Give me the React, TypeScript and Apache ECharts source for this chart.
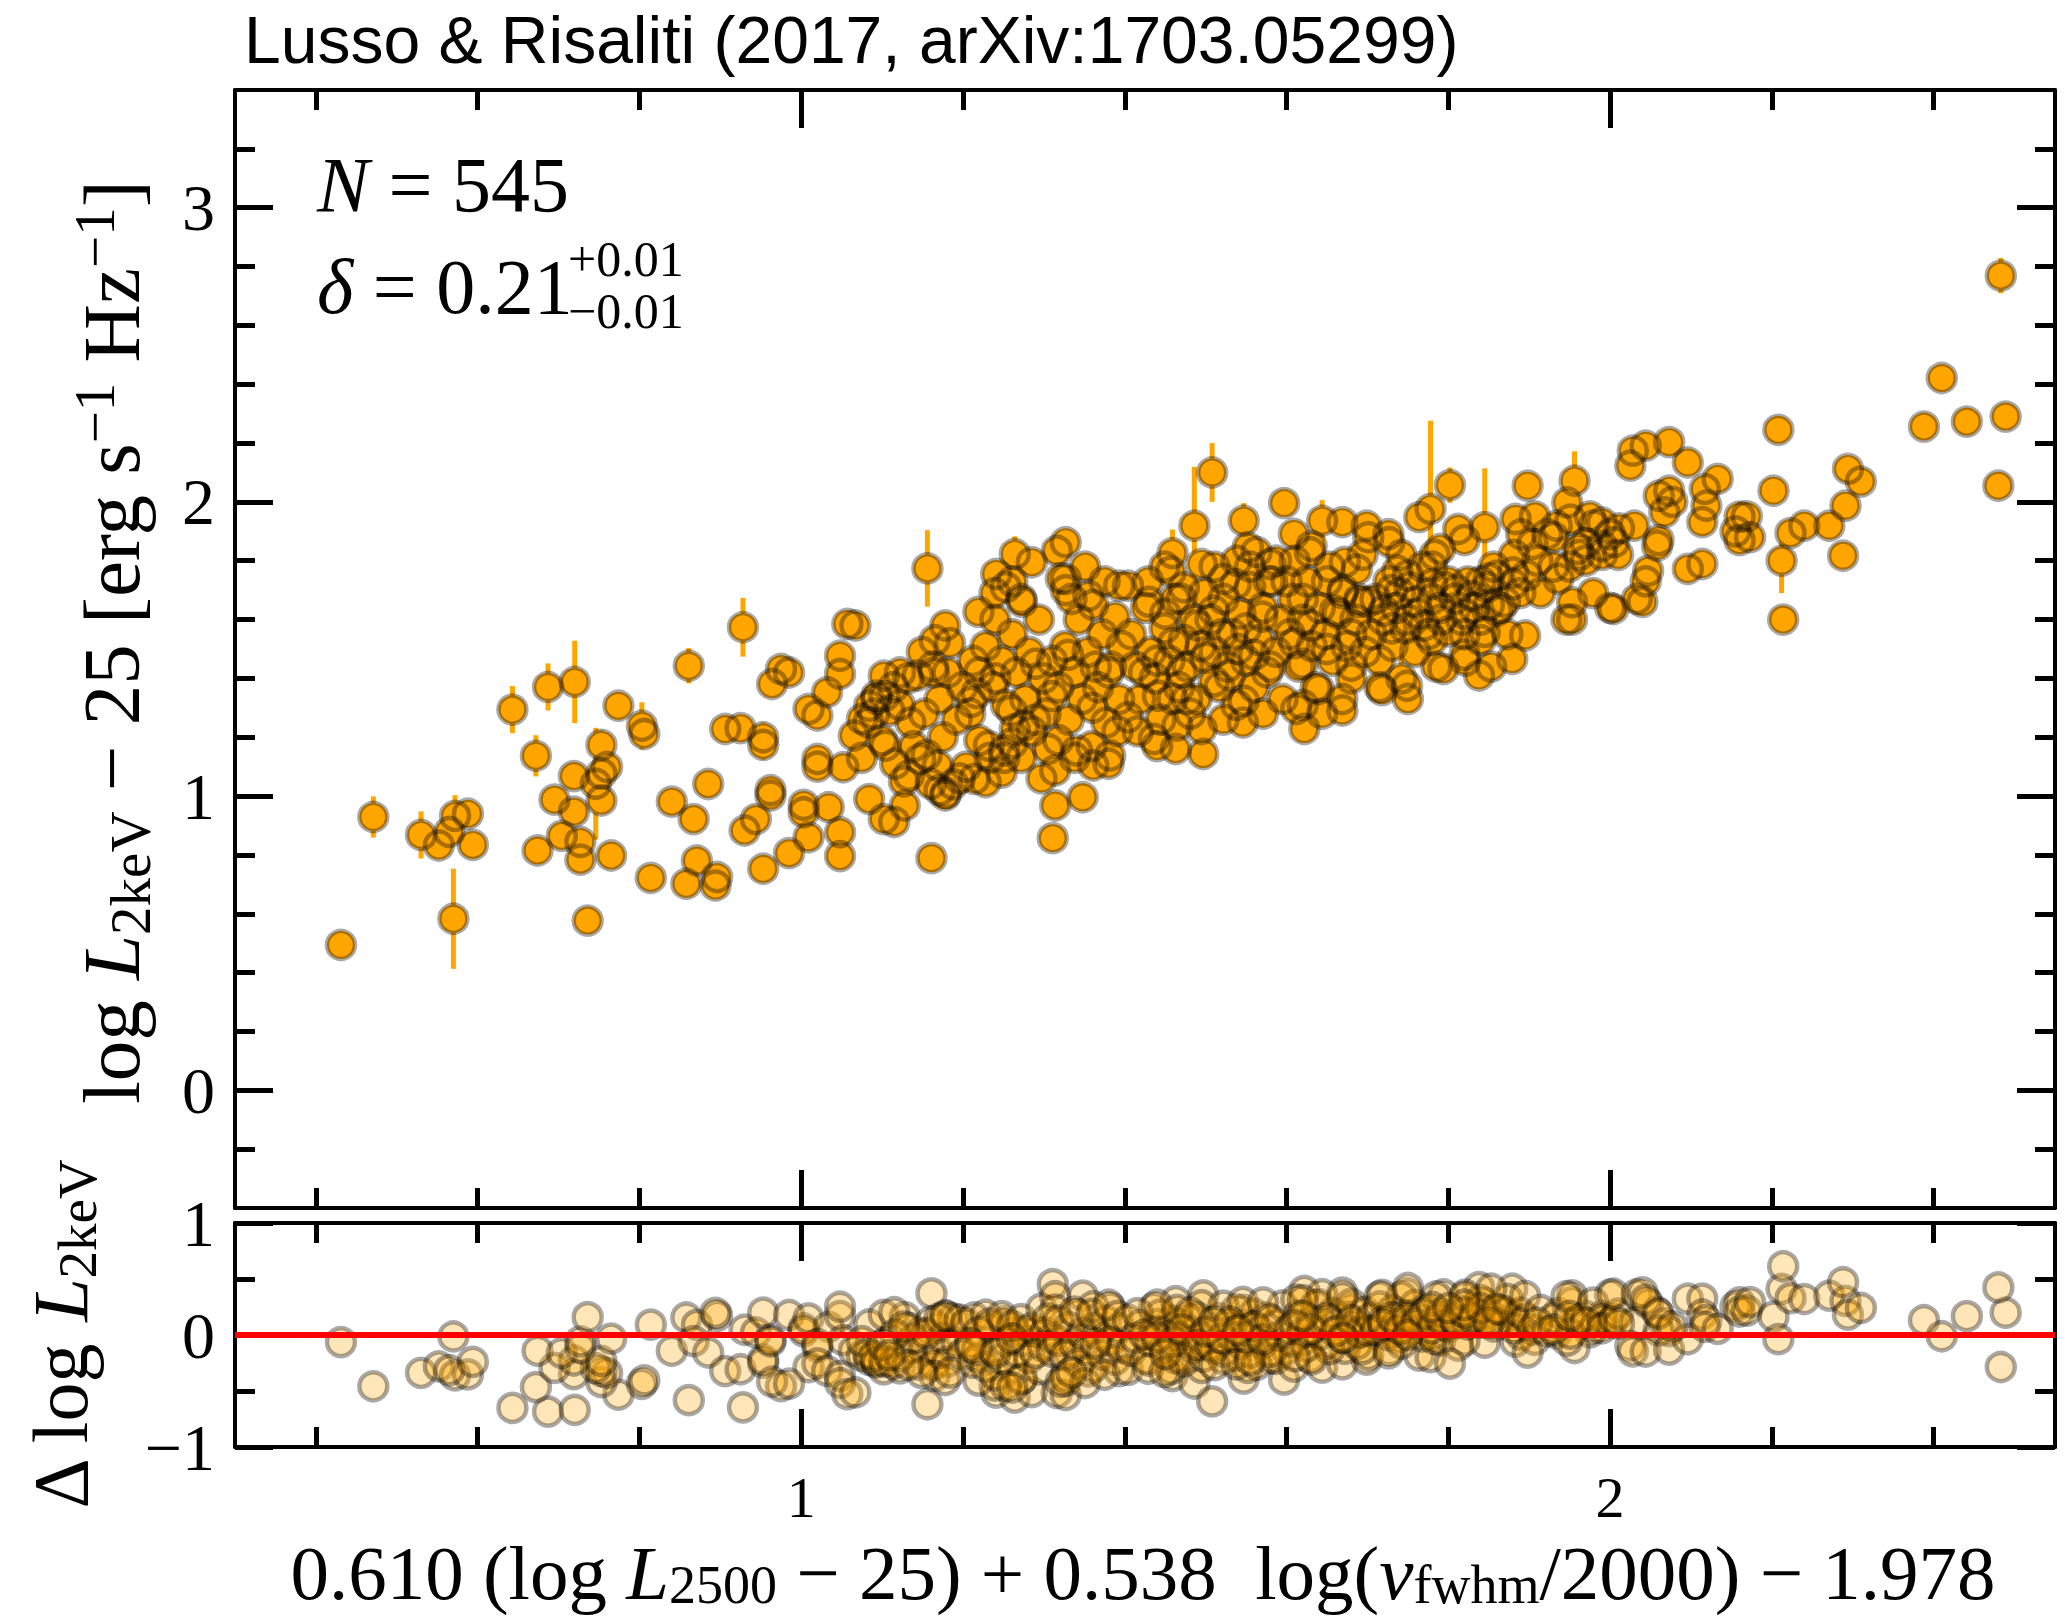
import React, { useEffect, useRef } from 'react';
import * as echarts from 'echarts';

type Obs = [number, number, number]; // [x, log L2keV - 25, error half-length]

const sampleLow: Obs[] = [
  [0.431, 0.494, 0], [0.471, 0.929, 0.07], [0.530, 0.868, 0.08], [0.552, 0.832, 0], [0.572, 0.933, 0.07],
  [0.588, 0.940, 0], [0.565, 0.878, 0], [0.594, 0.834, 0], [0.570, 0.583, 0.17],
  [0.643, 1.294, 0.08], [0.687, 1.371, 0.08], [0.720, 1.388, 0.14], [0.672, 1.137, 0.07], [0.774, 1.307, 0],
  [0.803, 1.239, 0.08], [0.806, 1.211, 0], [0.753, 1.174, 0.05], [0.719, 1.068, 0], [0.760, 1.099, 0],
  [0.753, 1.076, 0], [0.746, 1.042, 0.19], [0.695, 0.988, 0], [0.719, 0.947, 0], [0.753, 0.985, 0],
  [0.674, 0.815, 0], [0.704, 0.865, 0], [0.727, 0.844, 0], [0.727, 0.784, 0], [0.765, 0.798, 0], [0.736, 0.577, 0],
  [0.814, 0.722, 0], [0.858, 0.702, 0], [0.871, 0.781, 0], [0.896, 0.725, 0], [0.894, 0.696, 0], [0.840, 0.981, 0],
  [0.867, 0.922, 0], [0.885, 1.041, 0], [0.861, 1.443, 0.06], [0.928, 1.574, 0.1], [0.906, 1.228, 0],
  [0.925, 1.231, 0], [0.953, 1.200, 0.05], [0.953, 1.174, 0.05], [0.930, 0.883, 0], [0.944, 0.922, 0],
  [0.962, 1.002, 0], [0.962, 1.02, 0], [0.953, 0.753, 0], [0.985, 0.806, 0],
  [1.003, 0.945, 0], [1.003, 0.97, 0], [1.009, 0.860, 0], [1.034, 0.962, 0], [1.048, 0.877, 0], [1.048, 0.796, 0],
  [1.020, 1.126, 0], [1.020, 1.10, 0], [1.052, 1.098, 0], [1.009, 1.296, 0], [1.020, 1.274, 0], [1.032, 1.353, 0],
  [1.048, 1.415, 0], [1.048, 1.477, 0], [0.975, 1.432, 0], [0.964, 1.381, 0], [0.985, 1.42, 0], [1.057, 1.585, 0],
  [1.067, 1.58, 0], [1.065, 1.206, 0], [1.075, 1.262, 0], [1.084, 1.307, 0], [1.093, 1.341, 0], [1.084, 0.990, 0],
  [1.102, 0.922, 0], [1.104, 1.171, 0], [1.102, 1.409, 0], [1.083, 1.25, 0], [1.075, 1.13, 0], [1.093, 1.33, 0],
  [1.090, 1.28, 0],
];

const sampleMid: Obs[] = [
  [1.161, 0.789, 0], [1.128, 0.968, 0], [1.115, 0.912, 0], [1.133, 1.070, 0], [1.147, 1.126, 0], [1.169, 1.104, 0],
  [1.160, 1.041, 0], [1.178, 1.002, 0], [1.122, 1.42, 0], [1.164, 1.42, 0], [1.156, 1.774, 0.13],
  [1.103, 1.34, 0], [1.114, 1.37, 0], [1.122, 1.31, 0], [1.135, 1.25, 0], [1.144, 1.41, 0], [1.152, 1.28, 0],
  [1.163, 1.44, 0], [1.171, 1.33, 0], [1.175, 1.20, 0], [1.181, 1.42, 0], [1.188, 1.04, 0], [1.192, 1.26, 0],
  [1.199, 1.37, 0], [1.139, 1.17, 0], [1.155, 1.14, 0], [1.116, 1.11, 0], [1.100, 1.19, 0], [1.127, 1.05, 0],
  [1.171, 1.02, 0], [1.179, 1.01, 0], [1.196, 1.06, 0], [1.204, 1.10, 0], [1.165, 1.53, 0], [1.178, 1.58, 0],
  [1.149, 1.49, 0], [1.132, 1.40, 0], [1.109, 1.29, 0], [1.184, 1.52, 0],
  [1.214, 1.058, 0], [1.228, 1.047, 0], [1.264, 1.228, 0], [1.275, 1.240, 0], [1.232, 1.171, 0], [1.251, 1.155, 0],
  [1.251, 1.13, 0], [1.241, 1.755, 0], [1.239, 1.69, 0], [1.264, 1.823, 0.06], [1.285, 1.795, 0], [1.273, 1.66, 0],
  [1.219, 1.626, 0], [1.212, 1.46, 0], [1.220, 1.42, 0], [1.228, 1.51, 0], [1.237, 1.37, 0], [1.240, 1.60, 0],
  [1.248, 1.46, 0], [1.253, 1.31, 0], [1.261, 1.55, 0], [1.266, 1.42, 0], [1.272, 1.67, 0], [1.277, 1.33, 0],
  [1.282, 1.49, 0], [1.289, 1.26, 0], [1.294, 1.60, 0], [1.299, 1.40, 0], [1.220, 1.19, 0], [1.233, 1.13, 0],
  [1.248, 1.08, 0], [1.261, 1.18, 0], [1.272, 1.13, 0], [1.285, 1.22, 0], [1.297, 1.06, 0], [1.209, 1.28, 0],
  [1.217, 1.35, 0], [1.302, 1.28, 0], [1.253, 1.71, 0], [1.261, 1.73, 0],
  [1.21, 1.32, 0], [1.24, 1.40, 0], [1.26, 1.29, 0], [1.29, 1.45, 0], [1.31, 1.34, 0], [1.33, 1.48, 0],
  [1.36, 1.30, 0], [1.38, 1.42, 0],
  [1.311, 0.857, 0], [1.314, 0.968, 0], [1.348, 0.996, 0], [1.382, 1.138, 0], [1.361, 1.104, 0], [1.341, 1.155, 0],
  [1.314, 1.087, 0], [1.305, 1.160, 0], [1.316, 1.834, 0.04], [1.327, 1.863, 0.04], [1.327, 1.738, 0],
  [1.327, 1.70, 0], [1.355, 1.681, 0], [1.393, 1.715, 0],
  [1.310, 1.46, 0], [1.318, 1.37, 0], [1.326, 1.51, 0], [1.331, 1.26, 0], [1.338, 1.42, 0], [1.343, 1.60, 0],
  [1.347, 1.33, 0], [1.354, 1.49, 0], [1.361, 1.65, 0], [1.367, 1.37, 0], [1.372, 1.55, 0], [1.377, 1.25, 0],
  [1.383, 1.44, 0], [1.388, 1.61, 0], [1.393, 1.33, 0], [1.396, 1.51, 0], [1.318, 1.19, 0], [1.338, 1.13, 0],
  [1.359, 1.17, 0], [1.380, 1.11, 0], [1.391, 1.22, 0], [1.321, 1.74, 0], [1.351, 1.78, 0], [1.375, 1.73, 0],
  [1.334, 1.67, 0], [1.364, 1.44, 0],
];

const sampleCore: Obs[] = [
  [1.404, 1.268, 0], [1.436, 1.194, 0], [1.463, 1.160, 0], [1.497, 1.143, 0], [1.495, 1.228, 0], [1.477, 1.330, 0],
  [1.459, 1.33, 0], [1.441, 1.341, 0], [1.404, 1.715, 0], [1.459, 1.826, 0.08], [1.457, 1.763, 0],
  [1.486, 1.919, 0.2], [1.495, 1.789, 0], [1.47, 1.67, 0], [1.43, 1.66, 0],
  [1.408, 1.55, 0], [1.413, 1.44, 0], [1.419, 1.33, 0], [1.426, 1.64, 0], [1.432, 1.49, 0], [1.437, 1.40, 0],
  [1.444, 1.26, 0], [1.449, 1.57, 0], [1.455, 1.46, 0], [1.462, 1.67, 0], [1.467, 1.37, 0], [1.473, 1.53, 0],
  [1.478, 1.44, 0], [1.485, 1.60, 0], [1.489, 1.33, 0], [1.494, 1.51, 0], [1.416, 1.22, 0], [1.440, 1.17, 0],
  [1.465, 1.24, 0], [1.481, 1.28, 0], [1.429, 1.73, 0], [1.473, 1.71, 0], [1.449, 1.78, 0], [1.498, 1.69, 0],
  [1.424, 1.42, 0], [1.44, 1.46, 0], [1.46, 1.52, 0], [1.47, 1.42, 0], [1.49, 1.58, 0], [1.45, 1.62, 0],
  [1.547, 1.324, 0], [1.508, 2.100, 0.1], [1.547, 1.936, 0.06], [1.552, 1.846, 0], [1.597, 1.996, 0],
  [1.580, 1.789, 0], [1.578, 1.73, 0], [1.522, 1.738, 0], [1.537, 1.72, 0], [1.51, 1.63, 0], [1.60, 1.73, 0],
  [1.506, 1.60, 0], [1.511, 1.49, 0], [1.517, 1.37, 0], [1.522, 1.67, 0], [1.527, 1.44, 0], [1.533, 1.55, 0],
  [1.538, 1.31, 0], [1.543, 1.62, 0], [1.550, 1.46, 0], [1.555, 1.71, 0], [1.560, 1.37, 0], [1.566, 1.53, 0],
  [1.571, 1.64, 0], [1.576, 1.42, 0], [1.582, 1.73, 0], [1.587, 1.49, 0], [1.592, 1.60, 0], [1.595, 1.33, 0],
  [1.522, 1.26, 0], [1.546, 1.25, 0], [1.571, 1.28, 0], [1.511, 1.78, 0], [1.538, 1.80, 0], [1.563, 1.83, 0],
  [1.587, 1.80, 0], [1.555, 1.78, 0], [1.50, 1.47, 0], [1.52, 1.55, 0], [1.53, 1.41, 0], [1.55, 1.57, 0],
  [1.56, 1.48, 0], [1.57, 1.61, 0], [1.51, 1.39, 0], [1.54, 1.50, 0], [1.58, 1.44, 0],
  [1.622, 1.228, 0], [1.612, 1.296, 0], [1.640, 1.364, 0], [1.669, 1.291, 0], [1.680, 1.443, 0],
  [1.609, 1.891, 0], [1.629, 1.829, 0], [1.644, 1.936, 0.07], [1.669, 1.931, 0], [1.699, 1.919, 0],
  [1.701, 1.88, 0], [1.672, 1.796, 0], [1.687, 1.77, 0], [1.62, 1.67, 0], [1.69, 1.66, 0], [1.65, 1.73, 0],
  [1.604, 1.55, 0], [1.608, 1.67, 0], [1.615, 1.44, 0], [1.620, 1.60, 0], [1.625, 1.73, 0], [1.631, 1.51, 0],
  [1.636, 1.37, 0], [1.641, 1.64, 0], [1.648, 1.55, 0], [1.653, 1.78, 0], [1.657, 1.46, 0], [1.664, 1.62, 0],
  [1.669, 1.69, 0], [1.674, 1.51, 0], [1.680, 1.40, 0], [1.685, 1.60, 0], [1.690, 1.67, 0], [1.697, 1.49, 0],
  [1.644, 1.28, 0], [1.669, 1.33, 0], [1.620, 1.31, 0], [1.694, 1.82, 0], [1.631, 1.85, 0], [1.61, 1.80, 0],
  [1.61, 1.52, 0], [1.63, 1.58, 0], [1.65, 1.50, 0], [1.66, 1.63, 0], [1.68, 1.55, 0], [1.70, 1.66, 0],
  [1.62, 1.45, 0], [1.67, 1.70, 0],
  [1.715, 1.370, 0], [1.749, 1.375, 0], [1.794, 1.432, 0], [1.727, 1.863, 0], [1.737, 1.766, 0],
  [1.764, 1.948, 0], [1.778, 1.976, 0.3], [1.79, 1.84, 0], [1.78, 1.78, 0], [1.73, 1.70, 0], [1.80, 1.73, 0],
  [1.705, 1.55, 0], [1.710, 1.67, 0], [1.715, 1.46, 0], [1.719, 1.60, 0], [1.726, 1.73, 0], [1.731, 1.51, 0],
  [1.736, 1.64, 0], [1.742, 1.40, 0.1], [1.747, 1.57, 0], [1.752, 1.71, 0], [1.759, 1.49, 0], [1.763, 1.62, 0],
  [1.768, 1.78, 0], [1.775, 1.55, 0], [1.780, 1.67, 0], [1.785, 1.44, 0], [1.791, 1.60, 0], [1.796, 1.71, 0],
  [1.718, 1.36, 0], [1.750, 1.33, 0], [1.742, 1.82, 0], [1.783, 1.82, 0], [1.726, 1.89, 0],
  [1.72, 1.63, 0], [1.73, 1.57, 0], [1.74, 1.69, 0], [1.75, 1.60, 0], [1.76, 1.66, 0], [1.77, 1.58, 0],
  [1.78, 1.72, 0], [1.79, 1.64, 0], [1.78, 1.53, 0], [1.75, 1.75, 0],
];

const sampleHigh: Obs[] = [
  [1.845, 1.914, 0.2], [1.883, 1.942, 0], [1.860, 1.749, 0], [1.84, 1.73, 0], [1.82, 1.87, 0], [1.88, 1.72, 0],
  [1.88, 1.76, 0], [1.87, 1.66, 0], [1.85, 1.65, 0], [1.89, 1.89, 0], [1.845, 1.558, 0], [1.879, 1.466, 0],
  [1.838, 1.410, 0], [1.82, 1.48, 0], [1.812, 1.908, 0], [1.802, 2.057, 0.06],
  [1.808, 1.67, 0], [1.816, 1.60, 0], [1.824, 1.73, 0], [1.832, 1.64, 0], [1.840, 1.53, 0], [1.848, 1.71, 0],
  [1.856, 1.78, 0], [1.865, 1.64, 0], [1.873, 1.55, 0], [1.881, 1.82, 0], [1.889, 1.69, 0], [1.821, 1.46, 0],
  [1.853, 1.44, 0], [1.897, 1.75, 0], [1.81, 1.70, 0], [1.82, 1.62, 0], [1.83, 1.68, 0], [1.84, 1.60, 0],
  [1.85, 1.74, 0], [1.86, 1.63, 0], [1.82, 1.55, 0], [1.80, 1.56, 0],
  [1.907, 1.951, 0], [1.934, 1.919, 0], [1.975, 1.951, 0], [1.98, 1.92, 0.06], [1.960, 1.840, 0], [1.97, 1.80, 0],
  [1.99, 1.82, 0], [2.00, 1.89, 0], [1.936, 1.738, 0], [1.904, 1.857, 0], [1.953, 1.659, 0], [1.898, 2.055, 0],
  [1.956, 2.072, 0.1], [1.947, 1.998, 0], [1.895, 1.546, 0], [1.953, 1.60, 0], [2.00, 1.64, 0],
  [1.914, 1.69, 0], [1.930, 1.78, 0], [1.946, 1.60, 0], [1.962, 1.82, 0], [1.979, 1.69, 0], [1.990, 1.85, 0],
  [1.922, 1.89, 0], [1.951, 1.94, 0], [1.91, 1.80, 0], [1.93, 1.88, 0], [1.95, 1.78, 0], [1.97, 1.86, 0],
  [1.99, 1.93, 0],
  [2.005, 1.863, 0], [2.01, 1.82, 0], [2.004, 1.636, 0], [2.033, 1.670, 0], [2.030, 1.919, 0], [2.047, 1.766, 0],
  [2.058, 1.851, 0], [2.067, 1.964, 0], [2.073, 2.038, 0], [2.060, 2.021, 0], [2.025, 2.123, 0],
  [2.028, 2.174, 0], [2.044, 2.191, 0], [2.073, 2.203, 0], [2.096, 2.134, 0], [2.096, 1.772, 0], [2.04, 1.66, 0],
  [2.011, 1.91, 0], [2.044, 1.73, 0], [2.060, 1.87, 0], [2.077, 2.00, 0],
  [2.114, 1.789, 0], [2.114, 1.931, 0], [2.119, 1.987, 0], [2.117, 2.044, 0], [2.133, 2.078, 0], [2.155, 1.90, 0],
  [2.16, 1.87, 0], [2.16, 1.95, 0.05], [2.169, 1.951, 0], [2.173, 1.880, 0],
  [2.202, 2.038, 0], [2.208, 2.245, 0], [2.212, 1.800, 0.11], [2.214, 1.60, 0], [2.223, 1.894, 0],
  [2.240, 1.919, 0], [2.271, 1.919, 0], [2.291, 1.987, 0], [2.288, 1.817, 0], [2.294, 2.112, 0], [2.310, 2.069, 0],
  [2.388, 2.256, 0], [2.410, 2.421, 0], [2.441, 2.273, 0], [2.489, 2.290, 0], [2.480, 2.055, 0],
  [2.483, 2.769, 0.06],
];

const xRange = [0.3, 2.55];
const yRangeTop = [-0.4, 3.4];
const yRangeBottom = [-1, 1];
const xMinorTicks = [0.4, 0.6, 0.8, 1.2, 1.4, 1.6, 1.8, 2.2, 2.4];
const xMajorTicks = [1, 2];
const yTopMinorTicks = [-0.2, 0.2, 0.4, 0.6, 0.8, 1.2, 1.4, 1.6, 1.8, 2.2, 2.4, 2.6, 2.8, 3.2];
const yTopMajorTicks = [0, 1, 2, 3];
const yBottomMinorTicks = [-0.5, 0.5];
const yBottomMajorTicks = [-1, 0, 1];
const zeroLine = [0, 0];

const titleText = 'Lusso & Risaliti (2017, arXiv:1703.05299)';
const countText = '545';
const deltaText = '0.21';
const deltaUp = '+0.01';
const deltaDown = '\u22120.01';

const SERIF = '"Liberation Serif", "DejaVu Serif", serif';
const SANS = '"Liberation Sans", Arial, sans-serif';
const ORANGE = '#FFA500';

const fmt = (v: number) => (v < 0 ? '\u2212' + Math.abs(v) : String(v));

function makeRich(size: number, drop = 1.15) {
  const lh = Math.round(size * drop);
  const small = Math.round(size * 0.7);
  return {
    r: { fontFamily: SERIF, fontSize: size, lineHeight: lh, verticalAlign: 'middle', fill: '#000' },
    i: { fontFamily: SERIF, fontStyle: 'italic', fontSize: size, lineHeight: lh, verticalAlign: 'middle', fill: '#000' },
    s: { fontFamily: SERIF, fontSize: small, lineHeight: small, verticalAlign: 'bottom', fill: '#000' },
    p: { fontFamily: SERIF, fontSize: small, lineHeight: small, verticalAlign: 'top', fill: '#000' },
  };
}

const tickStyle = { color: '#000', width: 5 };
const lineStyle = { color: '#000', width: 4 };

function xAxisDef(gridIndex: number, position: string, ticks: number[], len: number, withLine: boolean, labels: number[] | null) {
  return {
    type: 'value', gridIndex, position, min: xRange[0], max: xRange[1],
    axisLine: { show: withLine, onZero: false, lineStyle },
    axisTick: { show: true, inside: true, length: len, customValues: ticks, lineStyle: tickStyle },
    axisLabel: labels
      ? { show: true, customValues: labels, margin: 21, fontSize: 58, fontFamily: SERIF, color: '#000', formatter: fmt }
      : { show: false },
    splitLine: { show: false },
  };
}

function yAxisDef(gridIndex: number, position: string, range: number[], ticks: number[], len: number, withLine: boolean, labels: number[] | null) {
  return {
    type: 'value', gridIndex, position, min: range[0], max: range[1],
    axisLine: { show: withLine, onZero: false, lineStyle },
    axisTick: { show: true, inside: true, length: len, customValues: ticks, lineStyle: tickStyle },
    axisLabel: labels
      ? { show: true, customValues: labels, margin: 20, fontSize: 66, fontFamily: SERIF, color: '#000', formatter: fmt }
      : { show: false },
    splitLine: { show: false },
  };
}

function buildOption() {
  const all = [...sampleLow, ...sampleMid, ...sampleCore, ...sampleHigh];
  const points = all.map((d) => [d[0], d[1]]);
  const errs = all.filter((d) => d[2] > 0);
  // residual shown in the lower panel: x - log L2keV
  const residuals = all.map((d) => [d[0], +(d[0] - d[1]).toFixed(3)]);

  return {
    animation: false,
    backgroundColor: '#ffffff',
    grid: [
      { left: 235, top: 90, width: 1820, height: 1118, containLabel: false },
      { left: 235, top: 1223, width: 1820, height: 224, containLabel: false },
    ],
    xAxis: [
      xAxisDef(0, 'bottom', xMinorTicks, 20, true, null),
      xAxisDef(0, 'bottom', xMajorTicks, 38, false, null),
      xAxisDef(0, 'top', xMinorTicks, 20, true, null),
      xAxisDef(0, 'top', xMajorTicks, 38, false, null),
      xAxisDef(1, 'bottom', xMinorTicks, 20, true, null),
      xAxisDef(1, 'bottom', xMajorTicks, 38, false, xMajorTicks),
      xAxisDef(1, 'top', xMinorTicks, 20, true, null),
      xAxisDef(1, 'top', xMajorTicks, 38, false, null),
    ],
    yAxis: [
      yAxisDef(0, 'left', yRangeTop, yTopMinorTicks, 20, true, null),
      yAxisDef(0, 'left', yRangeTop, yTopMajorTicks, 38, false, yTopMajorTicks),
      yAxisDef(0, 'right', yRangeTop, yTopMinorTicks, 20, true, null),
      yAxisDef(0, 'right', yRangeTop, yTopMajorTicks, 38, false, null),
      yAxisDef(1, 'left', yRangeBottom, yBottomMinorTicks, 20, true, null),
      yAxisDef(1, 'left', yRangeBottom, yBottomMajorTicks, 38, false, yBottomMajorTicks),
      yAxisDef(1, 'right', yRangeBottom, yBottomMinorTicks, 20, true, null),
      yAxisDef(1, 'right', yRangeBottom, yBottomMajorTicks, 38, false, null),
    ],
    series: [
      {
        type: 'custom', xAxisIndex: 0, yAxisIndex: 0, z: 1,
        encode: { x: 0, y: 1 },
        data: errs,
        renderItem: (_params: any, api: any) => {
          const x = api.value(0), y = api.value(1), e = api.value(2);
          const p1 = api.coord([x, y - e]);
          const p2 = api.coord([x, y + e]);
          return {
            type: 'line',
            shape: { x1: p1[0], y1: p1[1], x2: p2[0], y2: p2[1] },
            style: { stroke: ORANGE, lineWidth: 5 },
          };
        },
      },
      {
        type: 'scatter', xAxisIndex: 0, yAxisIndex: 0, z: 2,
        symbol: 'circle', symbolSize: 28, data: points,
        itemStyle: { color: ORANGE, opacity: 1 },
        emphasis: { disabled: true },
      },
      {
        type: 'scatter', xAxisIndex: 0, yAxisIndex: 0, z: 3,
        symbol: 'circle', symbolSize: 28, data: points,
        itemStyle: { color: 'rgba(0,0,0,0)', borderColor: 'rgba(0,0,0,0.42)', borderWidth: 4.5 },
        emphasis: { disabled: true },
      },
      {
        type: 'scatter', xAxisIndex: 4, yAxisIndex: 4, z: 2,
        symbol: 'circle', symbolSize: 28, data: residuals,
        itemStyle: { color: 'rgba(255,165,0,0.35)', borderColor: 'rgba(0,0,0,0.42)', borderWidth: 4.5 },
        emphasis: { disabled: true },
      },
      {
        type: 'line', xAxisIndex: 4, yAxisIndex: 4, z: 5,
        data: [[xRange[0], zeroLine[0]], [xRange[1], zeroLine[1]]],
        symbol: 'none', lineStyle: { color: '#FF0000', width: 6 },
        emphasis: { disabled: true },
      },
    ],
    graphic: [
      {
        type: 'text', x: 244, y: 40, z: 10,
        style: { text: titleText, fontFamily: SANS, fontSize: 66, fill: '#000', align: 'left', verticalAlign: 'middle' },
      },
      {
        type: 'text', x: 317, y: 184, z: 10,
        style: { text: '{i|N}{r| = ' + countText + '}', rich: makeRich(78), align: 'left', verticalAlign: 'middle' },
      },
      {
        type: 'text', x: 317, y: 286, z: 10,
        style: { text: '{i|\u03b4}{r| = ' + deltaText + '}', rich: makeRich(78), align: 'left', verticalAlign: 'middle' },
      },
      {
        type: 'text', x: 568, y: 259, z: 10,
        style: { text: deltaUp, fontFamily: SERIF, fontSize: 50, fill: '#000', align: 'left', verticalAlign: 'middle' },
      },
      {
        type: 'text', x: 568, y: 311, z: 10,
        style: { text: deltaDown, fontFamily: SERIF, fontSize: 50, fill: '#000', align: 'left', verticalAlign: 'middle' },
      },
      {
        type: 'text', x: 112, y: 642, rotation: Math.PI / 2, z: 10,
        style: {
          text: '{r|log }{i|L}{s|2keV}{r| \u2212 25 [erg s}{p|\u22121}{r| Hz}{p|\u22121}{r|]}',
          rich: makeRich(81), align: 'center', verticalAlign: 'middle',
        },
      },
      {
        type: 'text', x: 60, y: 1335, rotation: Math.PI / 2, z: 10,
        style: {
          text: '{r|\u0394 log }{i|L}{s|2keV}',
          rich: makeRich(78), align: 'center', verticalAlign: 'middle',
        },
      },
      {
        type: 'text', x: 1143, y: 1573, z: 10,
        style: {
          text: '{r|0.610 (log }{i|L}{s|2500}{r| \u2212 25) + 0.538  log(}{i|v}{s|fwhm}{r|/2000) \u2212 1.978}',
          rich: makeRich(77, 1.0), align: 'center', verticalAlign: 'middle',
        },
      },
    ],
  };
}

export default function App() {
  const ref = useRef<HTMLDivElement>(null);
  useEffect(() => {
    const el = ref.current;
    if (!el) return;
    const chart = echarts.init(el, null, { renderer: 'svg' });
    chart.setOption(buildOption() as any);
    return () => chart.dispose();
  }, []);
  return (
    <div
      ref={ref}
      style={{ position: 'fixed', left: 0, top: 0, width: 2072, height: 1617, background: '#fff' }}
    />
  );
}
